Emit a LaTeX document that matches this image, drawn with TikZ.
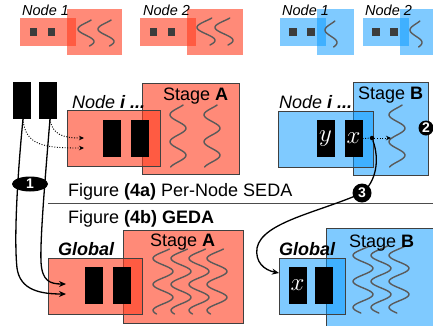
\documentclass[tikz,border=0pt]{standalone}
\usepackage{fontspec}
\setmainfont{Liberation Sans}
\usetikzlibrary{arrows.meta,shapes.geometric}
\definecolor{rbase}{RGB}{255,60,30}
\definecolor{bbase}{RGB}{0,150,255}
\definecolor{wigc}{RGB}{90,90,90}
\definecolor{sqc}{RGB}{60,60,60}
\newcommand\wig[5]{\draw[wigline] plot[domain=#2:#3,samples=60,smooth] ({#1-#4*sin(180*(\x-#2)/#5-40)},{\x});}
\tikzset{
  rfill/.style={fill=rbase, fill opacity=0.6},
  bfill/.style={fill=bbase, fill opacity=0.5},
  edge/.style={draw=black!75, line width=0.6},
  wigline/.style={draw=wigc, line width=1.4, line cap=round},
  blk/.style={fill=black, inner sep=0, outer sep=0, minimum width=18, minimum height=37},
  sq/.style={fill=sqc, inner sep=0, minimum size=7.5},
  big/.style={font=\fontsize{18}{20}\selectfont, anchor=base west, inner sep=0},
  small/.style={font=\fontsize{14.5}{16}\selectfont\itshape, anchor=base west, inner sep=0},
  numc/.style={circle, fill=black, text=white, inner sep=0, font=\fontsize{14}{14}\selectfont\bfseries},
  solarr/.style={draw=black, line width=1.3, -{Stealth[length=7,width=6]}},
  dotarr/.style={draw=black, line width=0.9, dash pattern=on 1pt off 1.6pt, -{Stealth[length=5,width=4.5]}},
  letter/.style={text=white, font=\fontsize{25}{25}\selectfont},
}
\begin{document}
\begin{tikzpicture}[x=1pt,y=-1pt]
\useasboundingbox (0,0) rectangle (433,325);
\clip (0,0) rectangle (433,325);
% ---------- top row ----------
\path[rfill] (20,18) rectangle (76,46);
\path[rfill] (67,9) rectangle (122,55);
\node[sq] (r1a) at (33.5,32) {};
\node[sq] (r1b) at (51.5,32) {};
\wig{86}{20}{46}{8}{12.5}
\wig{106}{20}{46}{8}{12.5}
\node[small] (n1r) at (22,15.5) {Node 1};

\path[rfill] (140,18) rectangle (196,46);
\path[rfill] (187,9) rectangle (243,55);
\node[sq] (r2a) at (153.5,32) {};
\node[sq] (r2b) at (171.5,32) {};
\wig{206}{18}{45}{9}{13}
\wig{224}{18}{45}{9}{13}
\node[small] (n2r) at (143,15.5) {Node 2};

\path[bfill] (280,18) rectangle (326,46);
\path[bfill] (317,9) rectangle (354,55);
\node[sq] (b1a) at (293,32) {};
\node[sq] (b1b) at (311,32) {};
\wig{331}{21}{47}{6}{12.5}
\node[small] (n1b) at (282,15.5) {Node 1};

\path[bfill] (363,18) rectangle (409,46);
\path[bfill] (400,9) rectangle (440,55);
\node[sq] (b2a) at (376,32) {};
\node[sq] (b2b) at (394,32) {};
\wig{416}{21}{47}{6}{12.5}
\node[small] (n2b) at (365,15.5) {Node 2};

% ---------- 4a red ----------
\path[rfill,edge] (142,83) rectangle (239,174);
\path[rfill,edge] (67,110) rectangle (160,166);
\node[blk] (ra1) at (111.5,138.5) {};
\node[blk] (ra2) at (140,138.5) {};
\wig{178}{105}{167}{8}{13.5}
\wig{212}{105}{167}{8}{13.5}
\node[big] (nia) at (72,108) {\textit{Node \textbf{i ...}}};
\node[big] (sta) at (163,100) {Stage \textbf{A}};

% ---------- 4a blue ----------
\path[bfill,edge] (353,82) rectangle (428,175);
\path[bfill,edge] (278,111) rectangle (373,167);
\node[blk, letter] (by) at (325.5,138.5) {$y$};
\node[blk, letter] (bx) at (353.5,138.5) {$x$};
\wig{397}{105}{167}{8}{13.5}
\node[big] (nib) at (279,108) {\textit{Node \textbf{i ...}}};
\node[big] (stb) at (358,99) {Stage \textbf{B}};
\node[circle, fill=black, inner sep=0, minimum size=4.5] (dot) at (372,138) {};
\coordinate (dtip) at (391,138);
\draw[draw=black, line width=0.9, dash pattern=on 1pt off 1.6pt] (bx.east) -- (dot);
\draw[dotarr] (dot) -- (dtip);

% ---------- captions ----------
\node[big] (capa) at (68,196) {Figure \textbf{(4a)} Per-Node SEDA};
\coordinate (sepl) at (48,203);
\coordinate (sepr) at (433,203);
\draw[draw=black!70, line width=0.8] (sepl) -- (sepr);
\node[big] (capb) at (68,223) {Figure \textbf{(4b) GEDA}};

% ---------- 4b red ----------
\path[rfill,edge] (123,230) rectangle (243,323);
\path[rfill,edge] (48,258) rectangle (142,314);
\node[blk] (gr1) at (94,285.5) {};
\node[blk] (gr2) at (121.5,285.5) {};
\foreach \c in {163,181,199,217} {\wig{\c}{249}{314}{10}{13}}
\node[big] (glr) at (58,255) {\textbf{\textit{Global}}};
\node[big] (stA2) at (150,246) {Stage \textbf{A}};

% ---------- 4b blue ----------
\path[bfill,edge] (326,228) rectangle (440,330);
\path[bfill,edge] (279,258) rectangle (345,314);
\node[blk, letter] (gbx) at (297.5,285.5) {$x$};
\node[blk] (gb2) at (324,285.5) {};
\foreach \c in {363,381,399} {\wig{\c}{246}{313}{10}{13}}
\node[big] (glb) at (279,255) {\textbf{\textit{Global}}};
\node[big] (stB2) at (349,247) {Stage \textbf{B}};

% ---------- source buffers ----------
\node[blk] (L1) at (21.5,100.5) {};
\node[blk] (L2) at (47.5,100.5) {};
\coordinate (tA) at (84,148);
\coordinate (tB) at (84,138);
\draw[dotarr] ([xshift=1.5]L1.south) .. controls (25,146) and (45,148) .. (tA);
\draw[dotarr] ([xshift=2.5]L2.south) .. controls (52,134) and (62,138) .. (tB);
\coordinate (g1) at (66,294);
\coordinate (g2) at (66,284);
\draw[solarr] ([xshift=1.5]L1.south) .. controls (17,180) and (14,240) .. (17,268) .. controls (20,290) and (40,294) .. (g1);
\draw[solarr] ([xshift=2.5]L2.south) .. controls (45,180) and (40,240) .. (41,262) .. controls (42,281) and (50,284) .. (g2);
\node[ellipse, fill=black, text=white, inner sep=0, minimum width=36, minimum height=15, font=\fontsize{14}{14}\selectfont\bfseries] (e1) at (30,184) {1};

% ---------- arrow 3 ----------
\coordinate (g3) at (279,273);
\coordinate (m3) at (362,193);
\draw[solarr] (dot) .. controls (380,160) and (376,182) .. (m3) .. controls (320,212) and (262,222) .. (257,248) .. controls (255,262) and (264,270) .. (g3);
\node[numc, minimum size=19] (c3) at (m3) {3};
\node[numc, minimum size=15] (c2) at (426,128) {2};
\end{tikzpicture}
\end{document}
